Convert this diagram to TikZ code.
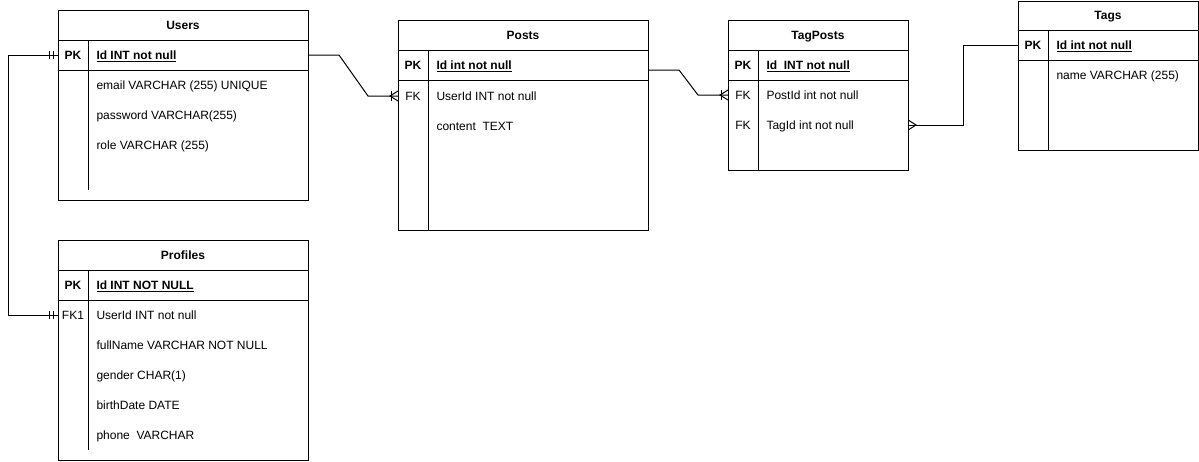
\documentclass[tikz,border=0pt]{standalone}
\usepackage{fontspec}
\setmainfont{Liberation Sans}
\usetikzlibrary{calc}
\newcommand\ermonemany[1]{%
  \draw ($(#1)+(-7,-5)$) -- ++(0,10);
  \draw ($(#1)+(0,-5)$) -- ($(#1)+(-8,0)$) -- ($(#1)+(0,5)$);}
\newcommand\ermmanyright[1]{%
  \draw ($(#1)+(0,-4.5)$) -- ($(#1)+(7,0)$) -- ($(#1)+(0,4.5)$);}
\newcommand\ermonlyone[2]{% #1 point, #2 direction (+1 line comes from left)
  \draw ($(#1)+(-9*#2,-4)$) -- ++(0,8);
  \draw ($(#1)+(-5*#2,-4)$) -- ++(0,8);}
\begin{document}
\begin{tikzpicture}[x=1pt,y=-1pt,line width=1pt,
  tbox/.style={draw,inner sep=0pt,anchor=north west},
  ttl/.style={font=\fontsize{12}{14}\selectfont\bfseries,inner sep=0pt,text height=8.6pt,text depth=0pt},
  keyt/.style={font=\fontsize{12}{14}\selectfont,inner sep=0pt,text height=8.6pt,text depth=0pt},
  pkeyt/.style={keyt,font=\fontsize{12}{14}\selectfont\bfseries},
  fld/.style={font=\fontsize{12}{14}\selectfont,anchor=west,inner sep=0pt,text height=8.6pt,text depth=0pt},
  pfld/.style={fld,font=\fontsize{12}{14}\selectfont\bfseries}]
\useasboundingbox (0,0) rectangle (1199,461);

% ---------- Users
\node[tbox,minimum width=250pt,minimum height=190pt] (users) at (58,10) {};
\draw (58,40) -- (308,40) (58,70) -- (308,70) (88,40) -- (88,190);
\node[ttl] (usersT) at (183,25) {Users};
\node[pkeyt] (uPKk) at (73,55) {PK};
\node[pfld] (uPK) at (96,55) {\underline{Id INT not null}};
\node[fld] (uEmail) at (96,85) {email VARCHAR (255) UNIQUE};
\node[fld] (uPass) at (96,115) {password VARCHAR(255)};
\node[fld] (uRole) at (96,145) {role VARCHAR (255)};

% ---------- Posts
\node[tbox,minimum width=250pt,minimum height=210pt] (posts) at (398,20) {};
\draw (398,50) -- (648,50) (398,80) -- (648,80) (428,50) -- (428,230);
\node[ttl] (postsT) at (523,35) {Posts};
\node[pkeyt] (pPKk) at (413,65) {PK};
\node[pfld] (pPK) at (436,65) {\underline{Id int not null}};
\node[keyt] (pFKk) at (413,96) {FK};
\node[fld] (pFK) at (436,96) {UserId INT not null};
\node[fld] (pContent) at (436,126) {content\ \ TEXT};

% ---------- TagPosts
\node[tbox,minimum width=180pt,minimum height=150pt] (tagposts) at (728,20) {};
\draw (728,50) -- (908,50) (728,80) -- (908,80) (758,50) -- (758,170);
\node[ttl] (tpT) at (818,35) {TagPosts};
\node[pkeyt] (tPKk) at (743,65) {PK};
\node[pfld] (tPK) at (766,65) {\underline{Id\ \ INT not null}};
\node[keyt] (tFK1k) at (743,95) {FK};
\node[fld] (tFK1) at (766,95) {PostId int not null};
\node[keyt] (tFK2k) at (743,125) {FK};
\node[fld] (tFK2) at (766,125) {TagId int not null};

% ---------- Tags
\node[tbox,minimum width=180pt,minimum height=149.5pt] (tags) at (1018,0.5) {};
\draw (1018,30) -- (1198,30) (1018,60) -- (1198,60) (1048,30) -- (1048,150);
\node[ttl] (tagsT) at (1108,15) {Tags};
\node[pkeyt] (gPKk) at (1033,45) {PK};
\node[pfld] (gPK) at (1056,45) {\underline{Id int not null}};
\node[fld] (gName) at (1056,75) {name VARCHAR (255)};

% ---------- Profiles
\node[tbox,minimum width=250pt,minimum height=219.5pt] (profiles) at (58,240) {};
\draw (58,270) -- (308,270) (58,300) -- (308,300) (88,270) -- (88,450);
\node[ttl] (profT) at (183,255) {Profiles};
\node[pkeyt] (fPKk) at (73,285) {PK};
\node[pfld] (fPK) at (96,285) {\underline{Id INT NOT NULL}};
\node[keyt] (fFKk) at (73,315) {FK1};
\node[fld] (fFK) at (96,315) {UserId INT not null};
\node[fld] (fName) at (96,345) {fullName VARCHAR NOT NULL};
\node[fld] (fGender) at (96,375) {gender CHAR(1)};
\node[fld] (fBirth) at (96,405) {birthDate DATE};
\node[fld] (fPhone) at (96,435) {phone\ \ VARCHAR};

% ---------- Connectors
% Users -> Posts
\coordinate (c1s) at (users.east |- uPK);
\coordinate (c1e) at (posts.west |- pFK);
\draw (c1s) -- ++(30,0) -- ($(c1e)+(-30,0)$) -- (c1e);
\ermonemany{c1e}

% Posts -> TagPosts
\coordinate (c2s) at ($(posts.east |- pPK)+(0,5)$);
\coordinate (c2e) at (tagposts.west |- tFK1);
\draw (c2s) -- ++(30,0) -- ($(c2e)+(-30,0)$) -- (c2e);
\ermonemany{c2e}

% Tags -> TagPosts
\coordinate (c3s) at (tags.west |- gPK);
\coordinate (c3e) at (tagposts.east |- tFK2);
\draw (c3s) -- ++(-55,0) |- (c3e);
\ermmanyright{c3e}

% Users -> Profiles
\coordinate (c4s) at (users.west |- uPK);
\coordinate (c4e) at (profiles.west |- fFK);
\draw (c4s) -- ++(-50,0) |- (c4e);
\ermonlyone{c4s}{1}
\ermonlyone{c4e}{1}
\end{tikzpicture}
\end{document}
